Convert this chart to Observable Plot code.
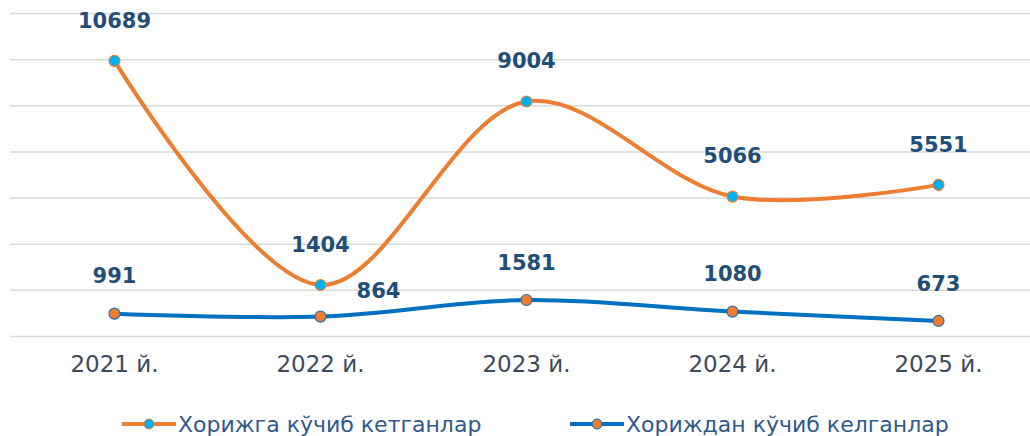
<!DOCTYPE html>
<html>
<head>
<meta charset="utf-8">
<script src="https://cdn.jsdelivr.net/npm/d3@7"></script>
<script src="https://cdn.jsdelivr.net/npm/@observablehq/plot@0.6"></script>
<style>
  html, body { margin: 0; padding: 0; background: #fff; }
  #wrap { position: relative; width: 1030px; height: 436px; overflow: hidden; font-family: "DejaVu Sans", sans-serif; }
  #wrap > svg { position: absolute; left: 0; top: 0; }
  .leg { position: absolute; top: 409px; height: 30px; display: flex; align-items: center; font-size: 22px; color: #2e5a8a; white-space: nowrap; }
  #wrap .leg svg { position: static; margin-right: 2px; }
</style>
</head>
<body>
<div id="wrap"></div>
<script>
const years = ["2021 й.", "2022 й.", "2023 й.", "2024 й.", "2025 й."];
const emigrated = [10689, 1404, 9004, 5066, 5551];   // Хорижга кўчиб кетганлар
const immigrated = [991, 864, 1581, 1080, 673];       // Хориждан кўчиб келганлар
const seriesNames = ["Хорижга кўчиб кетганлар", "Хориждан кўчиб келганлар"];
const yTicks = [0, 2000, 4000, 6000, 8000, 10000, 12000, 14000];

const orange = "#ED7D31", blue = "#0070C0", cyan = "#00B0F0";
const labelColor = "#1f4e79";

const outRows = years.map((year, i) => ({year, value: emigrated[i]}));
const inRows = years.map((year, i) => ({year, value: immigrated[i]}));

const common = {
  width: 1030,
  height: 400,
  marginLeft: 10,
  marginRight: 0,
  marginTop: 13,
  marginBottom: 64,
  style: {background: "transparent", fontFamily: "DejaVu Sans, sans-serif", color: "#3c4a5c", overflow: "visible"}
};
const xScale = {type: "point", domain: years, range: [113, 939], padding: 0, axis: null, label: null};

// primary axis (immigrants) with gridlines and x axis
const base = Plot.plot({
  ...common,
  x: xScale,
  y: {domain: [0, 14000], axis: null},
  marks: [
    Plot.ruleY(yTicks, {stroke: "#d9d9d9", strokeWidth: 1.5}),
    Plot.axisX({tickSize: 0, tickPadding: 19, fontSize: 23, label: null}),
    Plot.line(inRows, {x: "year", y: "value", stroke: blue, strokeWidth: 4, curve: "catmull-rom"}),
    Plot.dot(inRows, {x: "year", y: "value", r: 5.5, fill: orange, stroke: "#2f6fb0", strokeWidth: 1.2}),
    Plot.text(inRows.filter(d => d.year !== years[1]), {x: "year", y: "value", text: d => String(d.value), dy: -37, fontSize: 21, fontWeight: "bold", fill: labelColor}),
    Plot.text(inRows.filter(d => d.year === years[1]), {x: "year", y: "value", text: d => String(d.value), dx: 58, dy: -25, fontSize: 21, fontWeight: "bold", fill: labelColor})
  ]
});

// secondary axis (emigrants)
const over = Plot.plot({
  ...common,
  x: xScale,
  y: {domain: [-730, 12650], axis: null},
  marks: [
    Plot.line(outRows, {x: "year", y: "value", stroke: orange, strokeWidth: 4, curve: "catmull-rom"}),
    Plot.dot(outRows, {x: "year", y: "value", r: 5.5, fill: cyan, stroke: orange, strokeWidth: 1.2}),
    Plot.text(outRows, {x: "year", y: "value", text: d => String(d.value), dy: -40, fontSize: 21, fontWeight: "bold", fill: labelColor})
  ]
});

const wrap = document.getElementById("wrap");
wrap.appendChild(base);
wrap.appendChild(over);

function legendItem(name, lineColor, dotColor, left) {
  const div = document.createElement("div");
  div.className = "leg";
  div.style.left = left + "px";
  const sw = d3.create("svg").attr("width", 54).attr("height", 14);
  sw.append("line").attr("x1", 0).attr("x2", 54).attr("y1", 7).attr("y2", 7).attr("stroke", lineColor).attr("stroke-width", 4);
  sw.append("circle").attr("cx", 27).attr("cy", 7).attr("r", 5).attr("fill", dotColor).attr("stroke", lineColor).attr("stroke-width", 1);
  div.appendChild(sw.node());
  const span = document.createElement("span");
  span.textContent = name;
  div.appendChild(span);
  wrap.appendChild(div);
}
legendItem(seriesNames[0], orange, cyan, 122);
legendItem(seriesNames[1], blue, orange, 570);
</script>
</body>
</html>
